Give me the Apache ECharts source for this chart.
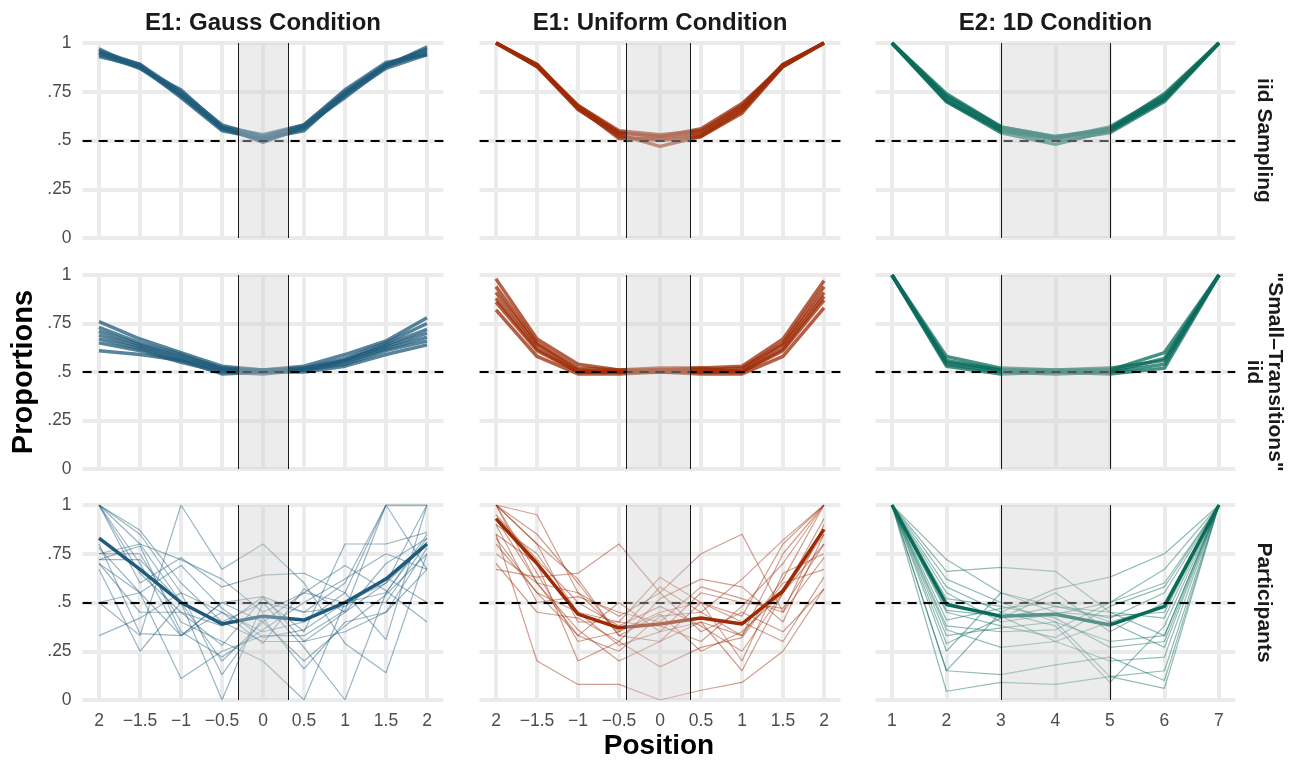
<!DOCTYPE html>
<html>
<head>
<meta charset="utf-8">
<script src="https://cdn.jsdelivr.net/npm/echarts@6/dist/echarts.min.js"></script>
<style>
html, body { margin: 0; background: #fff; }
#chart { width: 1300px; height: 760px; }
</style>
</head>
<body>
<div id="chart"></div>
<script>
// x positions and tick labels
const xPos = [-2, -1.5, -1, -0.5, 0, 0.5, 1, 1.5, 2];
const xPosLabels = ['2', '−1.5', '−1', '−0.5', '0', '0.5', '1', '1.5', '2'];
const x1D = [1, 2, 3, 4, 5, 6, 7];
const x1DLabels = ['1', '2', '3', '4', '5', '6', '7'];
const yTicks = [0, 0.25, 0.5, 0.75, 1];
const yTickLabels = ['0', '.25', '.5', '.75', '1'];

const colTitles = ['E1: Gauss Condition', 'E1: Uniform Condition', 'E2: 1D Condition'];
const rowLabels = ['iid Sampling', '"Small–Transitions"\niid', 'Participants'];

// shaded middle region per condition
const gaussBand = [-0.3, 0.3];
const uniformBand = [-0.42, 0.36];
const oneDBand = [3, 5];

// row 1: iid sampling simulations
const gaussIid = [
  [0.96, 0.89, 0.75, 0.58, 0.52, 0.58, 0.75, 0.89, 0.97],
  [0.94, 0.87, 0.73, 0.56, 0.50, 0.56, 0.73, 0.87, 0.94],
  [0.95, 0.88, 0.74, 0.57, 0.49, 0.57, 0.74, 0.88, 0.95],
  [0.93, 0.88, 0.72, 0.55, 0.51, 0.55, 0.74, 0.89, 0.96],
  [0.97, 0.87, 0.76, 0.57, 0.53, 0.58, 0.76, 0.90, 0.94],
  [0.95, 0.89, 0.73, 0.56, 0.51, 0.57, 0.72, 0.88, 0.98]
];
const uniformIid = [
  [1.00, 0.89, 0.67, 0.54, 0.52, 0.54, 0.67, 0.89, 1.00],
  [1.00, 0.88, 0.66, 0.52, 0.50, 0.52, 0.65, 0.88, 1.00],
  [1.00, 0.89, 0.68, 0.55, 0.53, 0.55, 0.68, 0.89, 1.00],
  [1.00, 0.88, 0.66, 0.53, 0.47, 0.52, 0.64, 0.88, 1.00],
  [1.00, 0.89, 0.67, 0.51, 0.51, 0.53, 0.66, 0.89, 1.00],
  [1.00, 0.88, 0.68, 0.54, 0.52, 0.56, 0.69, 0.88, 1.00]
];
const oneDIid = [
  [1, 0.73, 0.57, 0.52, 0.56, 0.72, 1],
  [1, 0.71, 0.55, 0.50, 0.54, 0.70, 1],
  [1, 0.70, 0.54, 0.48, 0.55, 0.71, 1],
  [1, 0.72, 0.56, 0.51, 0.57, 0.73, 1],
  [1, 0.74, 0.57, 0.52, 0.55, 0.71, 1],
  [1, 0.70, 0.55, 0.51, 0.56, 0.74, 1]
];

// row 2: "small transitions" simulations
const gaussSmall = [
  [0.76, 0.67, 0.60, 0.53, 0.51, 0.53, 0.59, 0.66, 0.78],
  [0.73, 0.65, 0.59, 0.52, 0.50, 0.52, 0.57, 0.65, 0.75],
  [0.71, 0.64, 0.58, 0.52, 0.51, 0.52, 0.56, 0.64, 0.72],
  [0.69, 0.63, 0.57, 0.51, 0.50, 0.51, 0.56, 0.63, 0.70],
  [0.67, 0.62, 0.56, 0.51, 0.51, 0.51, 0.55, 0.62, 0.68],
  [0.65, 0.61, 0.55, 0.50, 0.49, 0.51, 0.54, 0.61, 0.66],
  [0.61, 0.59, 0.56, 0.49, 0.50, 0.50, 0.53, 0.59, 0.64]
];
const uniformSmall = [
  [0.98, 0.67, 0.54, 0.51, 0.52, 0.52, 0.53, 0.67, 0.97],
  [0.94, 0.65, 0.52, 0.51, 0.51, 0.51, 0.52, 0.65, 0.94],
  [0.91, 0.64, 0.51, 0.50, 0.50, 0.50, 0.51, 0.64, 0.91],
  [0.88, 0.62, 0.50, 0.50, 0.51, 0.52, 0.50, 0.62, 0.89],
  [0.86, 0.61, 0.50, 0.50, 0.50, 0.50, 0.50, 0.61, 0.87],
  [0.82, 0.58, 0.49, 0.49, 0.50, 0.49, 0.49, 0.58, 0.83]
];
const oneDSmall = [
  [1, 0.58, 0.52, 0.51, 0.51, 0.60, 1],
  [1, 0.56, 0.51, 0.50, 0.50, 0.57, 1],
  [1, 0.54, 0.50, 0.49, 0.50, 0.54, 1],
  [1, 0.53, 0.49, 0.50, 0.49, 0.52, 1],
  [1, 0.55, 0.51, 0.51, 0.52, 0.56, 1]
];

// row 3: participants (thin) and their mean (thick)
const gaussPart = [
  [1.00, 0.85, 0.55, 0.45, 0.35, 0.40, 0.55, 1.00, 1.00],
  [1.00, 0.87, 0.60, 0.40, 0.30, 0.30, 0.45, 0.60, 1.00],
  [0.75, 0.80, 0.72, 0.62, 0.45, 0.55, 0.50, 0.55, 0.83],
  [0.72, 0.72, 0.50, 0.40, 0.50, 0.45, 0.60, 1.00, 1.00],
  [0.33, 0.42, 0.55, 0.13, 0.42, 0.16, 0.40, 0.45, 0.78],
  [0.67, 0.25, 0.50, 0.00, 0.50, 0.27, 0.00, 0.55, 0.85],
  [0.78, 0.55, 0.11, 0.25, 0.33, 0.33, 0.46, 1.00, 0.67],
  [0.50, 0.33, 1.00, 0.67, 0.80, 0.60, 0.29, 0.14, 0.75],
  [1.00, 0.70, 0.33, 0.50, 0.40, 0.55, 0.69, 0.56, 0.40],
  [0.75, 0.75, 0.40, 0.30, 0.20, 0.00, 0.50, 0.60, 0.80],
  [0.70, 0.55, 0.69, 0.47, 0.32, 0.36, 0.50, 0.50, 0.81],
  [1.00, 0.65, 0.45, 0.28, 0.52, 0.35, 0.80, 0.80, 0.86],
  [0.72, 0.79, 0.35, 0.22, 0.36, 0.50, 0.62, 0.75, 0.67],
  [0.50, 0.55, 0.33, 0.50, 0.53, 0.30, 0.35, 0.45, 0.67],
  [1.00, 0.60, 0.73, 0.58, 0.64, 0.65, 0.55, 0.31, 1.00],
  [0.80, 0.34, 0.33, 0.45, 0.29, 0.57, 0.45, 0.70, 0.83],
  [1.00, 0.80, 0.50, 0.20, 0.40, 0.20, 0.38, 0.54, 0.75],
  [0.70, 0.45, 0.45, 0.38, 0.53, 0.45, 0.48, 0.63, 0.50]
];
const gaussMean = [0.83, 0.67, 0.50, 0.39, 0.43, 0.41, 0.50, 0.62, 0.80];

const uniformPart = [
  [1.00, 0.95, 0.55, 0.35, 0.45, 0.50, 0.43, 0.80, 1.00],
  [1.00, 0.80, 0.62, 0.33, 0.30, 0.40, 0.33, 0.62, 1.00],
  [0.93, 0.60, 0.33, 0.25, 0.43, 0.45, 0.33, 0.75, 1.00],
  [0.85, 0.20, 0.08, 0.08, 0.00, 0.05, 0.09, 0.25, 0.57],
  [0.67, 0.63, 0.65, 0.80, 0.55, 0.35, 0.45, 0.35, 0.57],
  [0.80, 0.55, 0.45, 0.40, 0.63, 0.50, 0.20, 0.65, 0.75],
  [0.85, 0.70, 0.20, 0.30, 0.17, 0.27, 0.32, 0.60, 0.67],
  [1.00, 0.60, 0.55, 0.43, 0.55, 0.75, 0.85, 0.45, 0.90],
  [0.90, 0.75, 0.45, 0.28, 0.35, 0.55, 0.50, 0.47, 0.80],
  [1.00, 0.65, 0.30, 0.35, 0.58, 0.45, 0.62, 0.82, 1.00],
  [0.95, 0.72, 0.50, 0.38, 0.48, 0.38, 0.25, 0.55, 0.85],
  [0.75, 0.60, 0.36, 0.20, 0.30, 0.50, 0.40, 0.30, 0.63],
  [1.00, 0.80, 0.40, 0.40, 0.38, 0.30, 0.48, 0.70, 1.00],
  [0.90, 0.50, 0.53, 0.45, 0.40, 0.58, 0.52, 0.45, 0.73],
  [1.00, 0.85, 0.60, 0.33, 0.44, 0.25, 0.35, 0.55, 0.93],
  [0.83, 0.55, 0.33, 0.50, 0.35, 0.40, 0.15, 0.55, 0.80],
  [0.70, 0.45, 0.42, 0.30, 0.52, 0.62, 0.58, 0.40, 0.85]
];
const uniformMean = [0.93, 0.70, 0.44, 0.37, 0.39, 0.42, 0.39, 0.56, 0.875];

const oneDPart = [
  [1, 0.72, 0.55, 0.48, 0.42, 0.55, 1],
  [1, 0.66, 0.68, 0.66, 0.45, 0.42, 1],
  [1, 0.62, 0.50, 0.40, 0.30, 0.33, 1],
  [1, 0.58, 0.45, 0.57, 0.63, 0.75, 1],
  [1, 0.55, 0.40, 0.44, 0.50, 0.60, 1],
  [1, 0.45, 0.38, 0.32, 0.48, 0.58, 1],
  [1, 0.41, 0.47, 0.50, 0.40, 0.27, 1],
  [1, 0.36, 0.27, 0.30, 0.20, 0.22, 1],
  [1, 0.33, 0.37, 0.40, 0.12, 0.15, 1],
  [1, 0.29, 0.42, 0.55, 0.35, 0.50, 1],
  [1, 0.25, 0.55, 0.45, 0.43, 0.45, 1],
  [1, 0.15, 0.45, 0.38, 0.09, 0.38, 1],
  [1, 0.045, 0.09, 0.08, 0.12, 0.06, 1],
  [1, 0.15, 0.13, 0.18, 0.22, 0.10, 1],
  [1, 0.50, 0.42, 0.48, 0.45, 0.33, 1],
  [1, 0.38, 0.35, 0.36, 0.50, 0.67, 1],
  [1, 0.46, 0.43, 0.30, 0.40, 0.48, 1],
  [1, 0.52, 0.48, 0.42, 0.27, 0.30, 1]
];
const oneDMean = [1, 0.49, 0.43, 0.44, 0.385, 0.48, 1];

const colColors = ['#1f5b7a', '#9c2b06', '#0a6b5b'];
const font = "'Liberation Sans', Arial, sans-serif";

// panel geometry (pixels)
const colLeft = [82.6, 479.6, 875.6];
const colWidth = [360.8, 360.8, 359.7];
const rowTop = [43, 275, 505];
const rowHeight = [195, 194, 195];
const colRange = [[-2.2, 2.2], [-2.2, 2.2], [0.7, 7.3]];

const colX = [xPos, xPos, x1D];
const colXLabels = [xPosLabels, xPosLabels, x1DLabels];
const colBand = [gaussBand, uniformBand, oneDBand];
const panelLines = [
  [gaussIid, uniformIid, oneDIid],
  [gaussSmall, uniformSmall, oneDSmall],
  [gaussPart, uniformPart, oneDPart]
];
const panelMeans = [gaussMean, uniformMean, oneDMean];

function pts(xs, ys) {
  return xs.map((x, k) => [x, ys[k]]);
}

let grids = [], xAxes = [], yAxes = [], series = [], graphics = [];

for (let r = 0; r < 3; r++) {
  for (let c = 0; c < 3; c++) {
    const i = r * 3 + c;
    const xs = colX[c];
    const labels = colXLabels[c];
    grids.push({ left: colLeft[c], top: rowTop[r], width: colWidth[c], height: rowHeight[r] });
    xAxes.push({
      type: 'value', gridIndex: i, min: colRange[c][0], max: colRange[c][1], interval: 0.1,
      axisLine: { show: false }, axisTick: { show: false }, splitLine: { show: false },
      axisLabel: {
        show: r === 2, margin: 12, color: '#4d4d4d', fontSize: 17.5, fontFamily: font,
        formatter: function (v) {
          for (let k = 0; k < xs.length; k++) {
            if (Math.abs(v - xs[k]) < 1e-6) return labels[k];
          }
          return '';
        }
      }
    });
    yAxes.push({
      type: 'value', gridIndex: i, min: 0, max: 1, interval: 0.25,
      axisLine: { show: false }, axisTick: { show: false }, splitLine: { show: false },
      axisLabel: {
        show: c === 0, margin: 11, color: '#4d4d4d', fontSize: 17.5, fontFamily: font,
        formatter: function (v) {
          for (let k = 0; k < yTicks.length; k++) {
            if (Math.abs(v - yTicks[k]) < 1e-6) return yTickLabels[k];
          }
          return '';
        }
      }
    });

    // grid lines (kept under everything)
    series.push({
      type: 'line', xAxisIndex: i, yAxisIndex: i, data: [], z: 1, silent: true,
      markLine: {
        z: 1, silent: true, symbol: 'none', animation: false, label: { show: false },
        lineStyle: { color: '#ebebeb', width: 4, type: 'solid' },
        data: xs.map(v => ({ xAxis: v })).concat(yTicks.map(v => ({ yAxis: v })))
      }
    });

    // data lines
    const color = colColors[c];
    const isPart = r === 2;
    panelLines[r][c].forEach(function (ys) {
      series.push({
        type: 'line', xAxisIndex: i, yAxisIndex: i, z: 2, silent: true,
        showSymbol: false, symbol: 'none',
        data: pts(xs, ys),
        lineStyle: { color: color, width: isPart ? 1.2 : 3.5, opacity: isPart ? 0.45 : 0.75 }
      });
    });
    if (isPart) {
      series.push({
        type: 'line', xAxisIndex: i, yAxisIndex: i, z: 2, silent: true,
        showSymbol: false, symbol: 'none',
        data: pts(xs, panelMeans[c]),
        lineStyle: { color: color, width: 3.5 }
      });
    }

    // dashed chance line
    series.push({
      type: 'line', xAxisIndex: i, yAxisIndex: i, data: [], z: 3, silent: true,
      markLine: {
        z: 3, silent: true, symbol: 'none', animation: false, label: { show: false },
        lineStyle: { color: '#000', width: 2, type: [9, 7] },
        data: [{ yAxis: 0.5 }]
      }
    });

    // shaded middle region with edge lines
    series.push({
      type: 'custom', xAxisIndex: i, yAxisIndex: i, z: 4, silent: true, clip: false,
      data: [colBand[c]],
      encode: { x: [0, 1] },
      renderItem: function (params, api) {
        const p0 = api.coord([api.value(0), 1]);
        const p1 = api.coord([api.value(1), 0]);
        const xa = Math.round(p0[0]) + 0.5;
        const xb = Math.round(p1[0]) + 0.5;
        return {
          type: 'group',
          children: [
            { type: 'rect', shape: { x: xa, y: p0[1], width: xb - xa, height: p1[1] - p0[1] },
              style: { fill: 'rgba(208,208,208,0.4)' } },
            { type: 'line', shape: { x1: xa, y1: p0[1], x2: xa, y2: p1[1] },
              style: { stroke: '#1a1a1a', lineWidth: 1 } },
            { type: 'line', shape: { x1: xb, y1: p0[1], x2: xb, y2: p1[1] },
              style: { stroke: '#1a1a1a', lineWidth: 1 } }
          ]
        };
      }
    });
  }
}

// column titles
colTitles.forEach(function (t, c) {
  graphics.push({
    type: 'text', x: colLeft[c] + colWidth[c] / 2, y: 23,
    style: { text: t, font: 'bold 24px ' + font, fill: '#1a1a1a', textAlign: 'center', textVerticalAlign: 'middle' }
  });
});
// row strip labels
rowLabels.forEach(function (t, r) {
  graphics.push({
    type: 'text', x: 1264, y: rowTop[r] + rowHeight[r] / 2, rotation: -Math.PI / 2,
    style: { text: t, font: 'bold 21px ' + font, fill: '#1a1a1a', textAlign: 'center', textVerticalAlign: 'middle', lineHeight: 21 }
  });
});
// axis titles
graphics.push({
  type: 'text', x: 24, y: 372, rotation: Math.PI / 2,
  style: { text: 'Proportions', font: 'bold 29px ' + font, fill: '#000', textAlign: 'center', textVerticalAlign: 'middle' }
});
graphics.push({
  type: 'text', x: 659, y: 746,
  style: { text: 'Position', font: 'bold 28px ' + font, fill: '#000', textAlign: 'center', textVerticalAlign: 'middle' }
});

const chart = echarts.init(document.getElementById('chart'));
chart.setOption({
  animation: false,
  backgroundColor: '#fff',
  grid: grids,
  xAxis: xAxes,
  yAxis: yAxes,
  series: series,
  graphic: graphics
});
</script>
</body>
</html>
